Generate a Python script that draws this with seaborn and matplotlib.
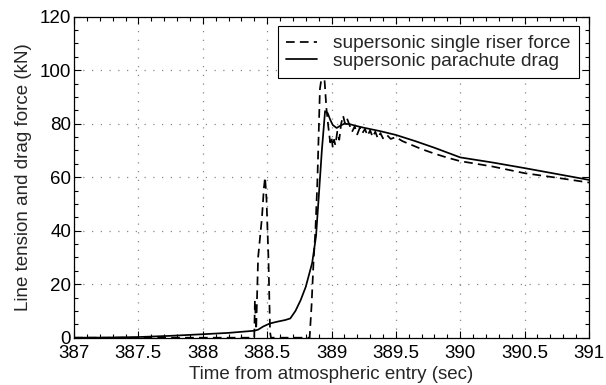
import numpy as np
import pandas as pd
import matplotlib
matplotlib.use("Agg")
import matplotlib.pyplot as plt
import seaborn as sns
from matplotlib.ticker import MultipleLocator

# --- data ---
t_riser = [387.0, 388.40, 388.405, 388.415, 388.43, 388.46, 388.475, 388.484, 388.495, 388.51, 388.523, 388.53,
           388.83, 388.845, 388.86, 388.875, 388.89, 388.91, 388.93, 388.945, 388.96, 388.975, 388.99, 389.0,
           389.01, 389.02, 389.03, 389.045, 389.06, 389.075, 389.09, 389.105, 389.12, 389.14, 389.16, 389.18,
           389.2, 389.22, 389.24, 389.26, 389.28, 389.3, 389.32, 389.34, 389.36, 389.38, 389.40, 389.43, 389.46,
           389.5, 389.55, 389.6, 389.7, 389.8, 389.9, 390.0, 390.25, 390.5, 390.75, 391.0]
riser_force = [0, 0, 14, 3, 30, 45, 56, 60, 52, 30, 2, 0,
               0, 12, 28, 40, 58, 93, 99.5, 97, 86, 79, 73, 75,
               71, 74, 72, 77, 74, 80, 83, 80, 82, 79.5, 77, 79,
               76, 78.5, 76.5, 78, 75.5, 77.5, 75, 77, 74.5, 76.5, 74.5, 75.8, 74.3,
               75, 73.5, 72.5, 70.5, 68.8, 67.3, 66, 64, 61.5, 59.8, 58]

t_drag = [387.0, 387.25, 387.5, 387.75, 388.0, 388.2, 388.4, 388.43, 388.47, 388.52, 388.58, 388.64, 388.68,
          388.72, 388.76, 388.80, 388.85, 388.88, 388.90, 388.925, 388.95, 388.97, 388.99, 389.01, 389.04,
          389.07, 389.1, 389.145, 389.18, 389.25, 389.38, 389.5, 389.65, 389.8, 390.0, 390.25, 390.5, 390.75, 391.0]
drag_force = [0, 0.05, 0.25, 0.7, 1.3, 1.8, 2.6, 3.0, 4.2, 5.3, 6.0, 6.6, 7.2,
              10, 14, 19, 28, 38, 52, 70, 84.7, 84, 81.5, 79.5, 78.4,
              79.3, 80, 79.8, 79.3, 78.5, 77.2, 75.8, 73.5, 71, 67.4, 65.5, 63.4, 61.2, 59]

labels = ["supersonic single riser force", "supersonic parachute drag"]

df = pd.concat([
    pd.DataFrame({"t": t_riser, "v": riser_force, "series": labels[0]}),
    pd.DataFrame({"t": t_drag, "v": drag_force, "series": labels[1]}),
], ignore_index=True)

sns.set_style("ticks")
plt.rcParams["font.family"] = ["Liberation Sans", "DejaVu Sans"]

fig = plt.figure(figsize=(6.06, 3.85), dpi=100)
ax = fig.add_axes([74/606, 1 - 337.7/385, (589-74)/606, (337.7-16.7)/385])

sns.lineplot(data=df, x="t", y="v", hue="series", style="series",
             palette={labels[0]: "black", labels[1]: "black"},
             dashes={labels[0]: (5, 3), labels[1]: ""},
             estimator=None, sort=False, lw=1.25, ax=ax)

ax.set_xlim(387, 391)
ax.set_ylim(0, 120)
ax.xaxis.set_major_locator(MultipleLocator(0.5))
ax.xaxis.set_minor_locator(MultipleLocator(0.1))
ax.yaxis.set_major_locator(MultipleLocator(20))
ax.yaxis.set_minor_locator(MultipleLocator(5))
ax.set_xticklabels([f"{v:g}" for v in ax.get_xticks()])
ax.tick_params(which="both", direction="in", top=True, right=True, labelsize=13.5, colors="black")
ax.tick_params(axis="x", which="both", pad=5)
ax.tick_params(axis="y", which="both", pad=2)
ax.tick_params(which="major", length=5, width=0.8)
ax.tick_params(which="minor", length=3, width=0.8)
ax.grid(True, which="major", color="#888888", linestyle=(0, (1, 6)), linewidth=0.9)
for s in ax.spines.values():
    s.set_color("black")
    s.set_linewidth(0.9)

ax.set_xlabel("Time from atmospheric entry (sec)", fontsize=13.5, labelpad=3)
ax.set_ylabel("Line tension and drag force (kN)", fontsize=13.5, labelpad=6)

leg = ax.legend(loc="upper right", fontsize=13.8, frameon=True, fancybox=False,
                edgecolor="black", framealpha=1, handlelength=1.6, handletextpad=0.85,
                borderpad=0.45, labelspacing=0.0, borderaxespad=0.5)
leg.get_frame().set_linewidth(0.8)
leg.set_title(None)

fig.savefig("out.png", dpi=100)
